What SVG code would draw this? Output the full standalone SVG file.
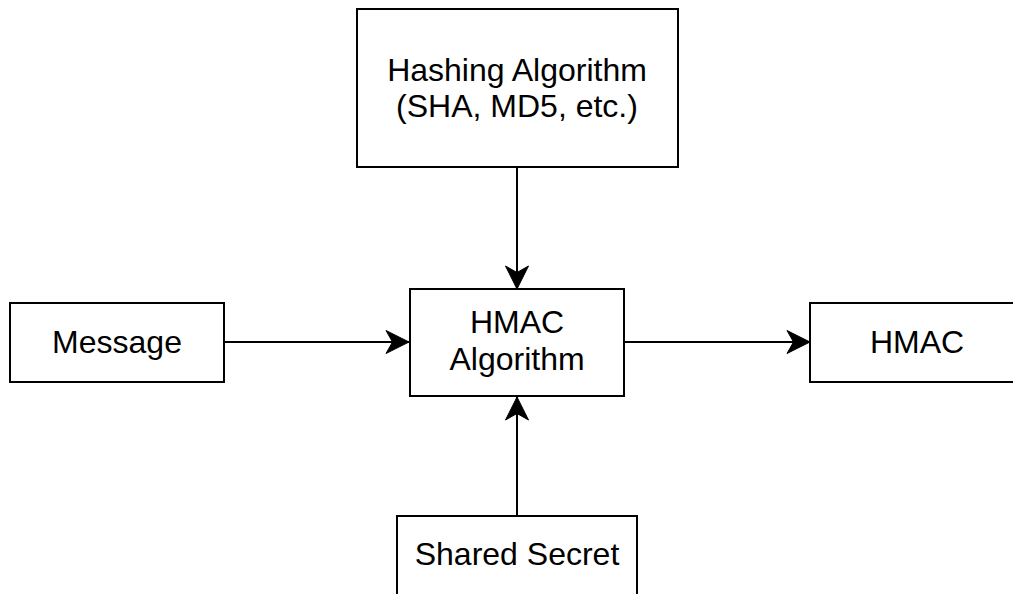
<svg xmlns="http://www.w3.org/2000/svg" width="1013" height="594" viewBox="0 0 1013 594">
<style>
.box{fill:#fff;stroke:#000;stroke-width:2}
.lbl{font-family:"Liberation Sans",Arial,Helvetica,sans-serif;font-size:32px;fill:#000;text-anchor:middle}
.edge{fill:none;stroke:#000;stroke-width:2}
</style>
<defs>
<marker id="arr" markerUnits="userSpaceOnUse" markerWidth="26" markerHeight="26" viewBox="-24 -13 26 26" refX="0" refY="0" orient="auto">
<path d="M0,0 L-23,-11.5 L-16.5,0 L-23,11.5 Z" fill="#000" stroke="#000" stroke-width="1"/>
</marker>
</defs>
<rect width="1013" height="594" fill="#fff"/>
<g id="connectors">
<path class="edge" d="M517,167 L517,289" marker-end="url(#arr)"/>
<path class="edge" d="M224,342 L409,342" marker-end="url(#arr)"/>
<path class="edge" d="M624,342 L810,342" marker-end="url(#arr)"/>
<path class="edge" d="M517,516 L517,397" marker-end="url(#arr)"/>
</g>
<g id="hashing">
<rect class="box" x="357" y="9" width="321" height="158"/>
<text class="lbl" x="517" y="81">Hashing Algorithm</text>
<text class="lbl" x="517" y="117">(SHA, MD5, etc.)</text>
</g>
<g id="message">
<rect class="box" x="10" y="303" width="214" height="79"/>
<text class="lbl" x="117" y="353">Message</text>
</g>
<g id="hmac-algorithm">
<rect class="box" x="410" y="289" width="214" height="107"/>
<text class="lbl" x="517" y="333">HMAC</text>
<text class="lbl" x="517" y="370">Algorithm</text>
</g>
<g id="hmac">
<rect class="box" x="810" y="303" width="214" height="79"/>
<text class="lbl" x="917" y="353">HMAC</text>
</g>
<g id="shared-secret">
<rect class="box" x="397" y="516" width="240" height="90"/>
<text class="lbl" x="517" y="565">Shared Secret</text>
</g>
</svg>
